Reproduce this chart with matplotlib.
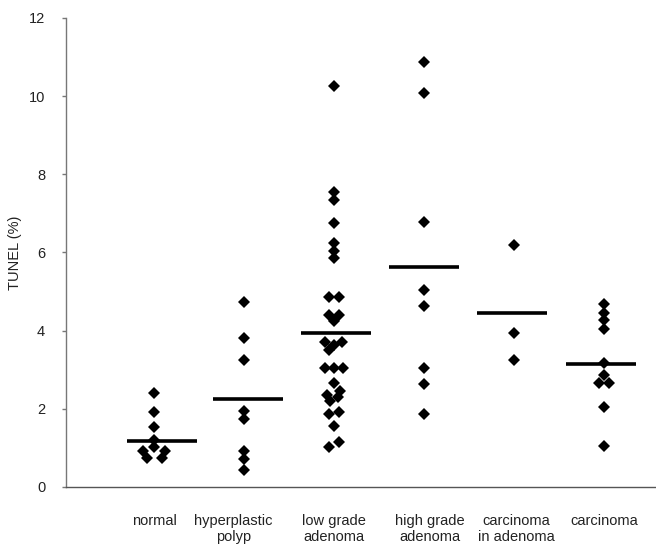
import numpy as np
import matplotlib
matplotlib.use("Agg")
from matplotlib import pyplot as plt

plt.rcParams['font.family'] = ['Liberation Sans', 'DejaVu Sans']

# category labels (two lines each)
labels = ["normal", "hyperplastic\npolyp", "low grade\nadenoma",
          "high grade\nadenoma", "carcinoma\nin adenoma", "carcinoma"]

# TUNEL (%) values
normal = [2.41, 1.92, 1.54, 1.20, 1.02, 0.92, 0.92, 0.74, 0.74]
hyperplastic = [4.72, 3.82, 3.26, 1.95, 1.74, 0.92, 0.72, 0.44]
low_grade = [10.25, 7.55, 7.35, 6.75, 6.25, 6.05, 5.85, 4.85, 4.85,
             4.40, 4.40, 4.25, 3.70, 3.70, 3.62, 3.50, 3.05, 3.05, 3.05,
             2.65, 2.45, 2.35, 2.30, 2.20, 1.92, 1.87, 1.55, 1.15, 1.03]
high_grade = [10.87, 10.08, 6.77, 5.05, 4.64, 3.05, 2.64, 1.87]
ca_in_adenoma = [6.18, 3.95, 3.26]
carcinoma = [4.69, 4.46, 4.26, 4.05, 3.17, 2.87, 2.67, 2.67, 2.05, 1.05]

# group means (horizontal bars)
means = [1.18, 2.26, 3.93, 5.62, 4.46, 3.15]

groups = [normal, hyperplastic, low_grade, high_grade, ca_in_adenoma, carcinoma]

# horizontal spread of overlapping points (layout only)
jitter = [
    [0, 0, 0, 0, 0, -0.12, 0.12, -0.08, 0.09],
    [0] * 8,
    [0, 0, 0, 0, 0, 0, 0, -0.05, 0.06, -0.05, 0.06, 0, -0.1, 0.09, 0,
     -0.05, -0.1, 0, 0.1, 0, 0.07, -0.08, 0.04, -0.04, 0.06, -0.06, 0,
     0.06, -0.06],
    [0] * 8,
    [0] * 3,
    [0, 0, 0, 0, 0, 0, -0.06, 0.06, 0, 0],
]
mean_shift = [0.09, 0.04, 0.02, 0, -0.02, -0.03]
label_shift = [0.01, -0.12, 0, 0.07, 0.03, 0]

fig = plt.figure(figsize=(6.56, 5.53), dpi=100)
ax = fig.add_axes([0.1006, 0.1194, 0.8994, 0.8481])

for i, vals in enumerate(groups):
    xs = np.full(len(vals), i + 1.0) + np.array(jitter[i])
    ax.plot(xs, vals, linestyle='none', marker='D', color='black',
            markersize=6, markeredgewidth=0)
    xc = i + 1 + mean_shift[i]
    ax.plot([xc - 0.39, xc + 0.39], [means[i], means[i]], color='black',
            linewidth=2.6, solid_capstyle='butt')

ax.set_xlim(0.022, 6.578)
ax.set_ylim(0, 12)
ax.set_yticks([0, 2, 4, 6, 8, 10, 12])
ax.set_xticks([])
ax.tick_params(axis='y', direction='out', length=3, width=1, color='#777777',
               labelsize=10.5, pad=12, labelcolor='#222222')

for s in ['top', 'right']:
    ax.spines[s].set_visible(False)
ax.spines['left'].set_color('#777777')
ax.spines['bottom'].set_color('#555555')
ax.spines['left'].set_linewidth(1)
ax.spines['bottom'].set_linewidth(1)

ax.set_ylabel("TUNEL (%)", fontsize=10.5, color='#222222')
ax.yaxis.set_label_coords(-0.074, 0.5)

for i, lab in enumerate(labels):
    ax.text(i + 1 + label_shift[i], -0.68, lab, ha='center', va='top',
            fontsize=10.5, color='#222222', linespacing=1.25, clip_on=False)

fig.savefig("out.png", dpi=100)
